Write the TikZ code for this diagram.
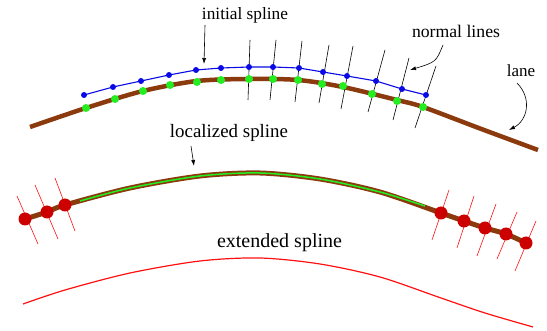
\documentclass[tikz,border=0pt]{standalone}
\usepackage{fontspec}
\setmainfont{Liberation Serif}
\usetikzlibrary{arrows.meta}
\definecolor{lanebrown}{HTML}{8B3A0E}
\definecolor{splblue}{HTML}{0A0AE6}
\definecolor{dotgreen}{HTML}{22EE22}
\definecolor{dotred}{HTML}{CC0000}
\definecolor{linered}{HTML}{FF1010}

\begin{document}
\begin{tikzpicture}[x=1pt, y=-1pt,
    lbl/.style={anchor=base, inner sep=0pt},
    pointer/.style={-{Latex[length=6pt,width=4pt]}, line width=0.6pt}]
  \useasboundingbox (0,0) rectangle (547,331);

  % lane with the initial spline and its normals
  \draw[lanebrown, line width=4.5pt] plot[smooth] coordinates
        {(30,127) (86,108) (143,91) (197,81) (249,79) (298,80) (343,87) (397,100) (423,107) (480,128.5) (538,150)};
  \foreach \xa/\ya/\xb/\yb in {250/40/248/100, 276/40/270/100, 302/41/295/102, 329/45/319/103,
                               353/46/341/109, 385/50/368/112, 409/58/393/120, 436/66/415/128}
    \draw[line width=0.6pt] (\xa,\ya) -- (\xb,\yb);
  \draw[splblue, line width=1.1pt] plot coordinates
        {(84,95) (113,87) (141,81) (169,75) (196,70) (221,68) (249,67) (273,67) (299,68) (323,72) (347,76) (376,81) (402,89) (426,95)};
  \foreach \x/\y in {84/95, 113/87, 141/81, 169/75, 196/70, 221/68, 249/67, 273/67, 299/68, 323/72, 347/76, 376/81, 402/89, 426/95}
    \fill[splblue] (\x,\y) circle (3pt);
  \foreach \x/\y in {86/108, 115/99, 143/91, 170/85, 197/82, 221/80, 249/79, 273/79, 298/80, 322/84, 343/86, 372/94, 397/101, 423/107}
    \fill[dotgreen] (\x,\y) circle (4pt);

  % localized spline
  \draw[lanebrown, line width=5pt] plot[smooth] coordinates
        {(25,219) (47,212) (65,205) (130,188) (200,176) (260,173) (320,179) (380,192) (441,213) (464,221) (485,228) (506,234) (526,243)};
  \draw[dotgreen, line width=1.5pt] plot[smooth] coordinates
        {(80,201) (130,188) (200,176) (260,173) (320,179) (380,192) (425,206)};
  \foreach \xa/\ya/\xb/\yb in {17/196/38/244, 35/185/58/239, 55/178/75/231, 449/190/432/240,
                               474/196/457/248, 496/204/477/256, 517/212/497/259, 536/221/515/271}
    \draw[linered, line width=0.6pt] (\xa,\ya) -- (\xb,\yb);
  \foreach \x/\y in {25/219, 47/212, 65/205, 441/213, 464/221, 485/228, 506/234, 526/243}
    \fill[dotred] (\x,\y) circle (6.5pt);

  % extended spline
  \draw[linered, line width=1.2pt] plot[smooth] coordinates
        {(23,304) (65,290) (130,273) (200,261) (260,258) (320,264) (380,277) (441,298) (485,313) (533,327)};

  % labels
  \node[lbl, font=\fontsize{17.3}{20}\selectfont] (initlbl) at (245,20) {initial spline};
  \node[lbl, font=\fontsize{17.7}{20}\selectfont] (normlbl) at (456,38) {normal lines};
  \node[lbl, font=\fontsize{17}{20}\selectfont] (lanelbl) at (521,77) {lane};
  \node[lbl, font=\fontsize{18.9}{22}\selectfont] (loclbl) at (229,138) {localized spline};
  \node[lbl, font=\fontsize{20}{24}\selectfont] (extlbl) at (279.5,248) {extended spline};

  \coordinate (inittail) at (205,25);
  \coordinate (inithead) at (204,64);
  \coordinate (normtail) at (443,45);
  \coordinate (normhead) at (410,70);
  \coordinate (lanetail) at (517,83);
  \coordinate (lanehead) at (509,130);
  \coordinate (loctail) at (191,146);
  \coordinate (lochead) at (194,166);
  \draw[pointer] (inittail) -- (inithead);
  \draw[pointer] (normtail) .. controls (436,62) .. (normhead);
  \draw[pointer] (lanetail) .. controls (532,98) and (528,120) .. (lanehead);
  \draw[pointer] (loctail) -- (lochead);
\end{tikzpicture}
\end{document}
